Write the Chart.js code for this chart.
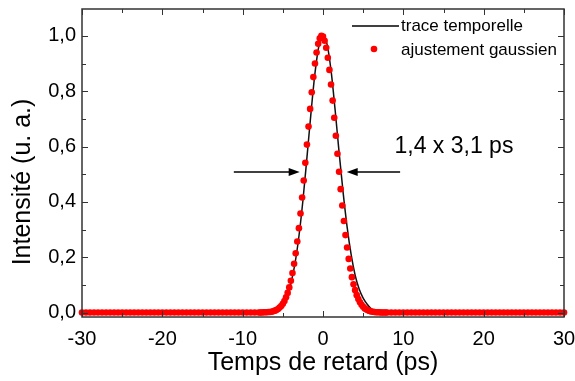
<!DOCTYPE html>
<html>
<head>
<meta charset="utf-8">
<script src="https://cdn.jsdelivr.net/npm/chart.js@4.4.1/dist/chart.umd.min.js"></script>
<style>
  html, body { margin: 0; padding: 0; background: #fff; }
  #wrap { width: 575px; height: 381px; }
</style>
</head>
<body>
<div id="wrap"><canvas id="chart-section" width="575" height="381"></canvas></div>
<script>
// measured autocorrelation trace (ps, a.u.)
const traceTime = [-30, -8, -7, -6.5, -6, -5.5, -5, -4.5, -4, -3.5, -3, -2.5, -2, -1.5, -1, -0.5,
  0, 0.5, 1, 1.5, 2, 2.5, 3, 3.5, 4, 4.5, 5, 5.5, 6, 6.5, 7, 8, 30]
const traceValue = [0, 0, 0.001, 0.002, 0.005, 0.013, 0.03, 0.055, 0.105, 0.175, 0.275, 0.405, 0.56, 0.72, 0.865, 0.965,
  1.0, 0.97, 0.875, 0.735, 0.58, 0.435, 0.31, 0.21, 0.135, 0.085, 0.052, 0.03, 0.014, 0.005, 0.001, 0, 0]

// gaussian fit points
const fitTime = [
  -30, -29.5, -29, -28.5, -28, -27.5, -27, -26.5, -26, -25.5, -25,
  -24.5, -24, -23.5, -23, -22.5, -22, -21.5, -21, -20.5, -20,
  -19.5, -19, -18.5, -18, -17.5, -17, -16.5, -16, -15.5, -15,
  -14.5, -14, -13.5, -13, -12.5, -12, -11.5, -11, -10.5, -10, -9.5, -9, -8.5,
  -8, -7.8, -7.6, -7.4, -7.2, -7, -6.8, -6.6, -6.4, -6.2,
  -6, -5.8, -5.6, -5.4, -5.2, -5, -4.8, -4.6, -4.4, -4.2,
  -4, -3.8, -3.6, -3.4, -3.2, -3, -2.8, -2.6, -2.4, -2.2,
  -2, -1.8, -1.6, -1.4, -1.2, -1, -0.8, -0.6, -0.4, -0.2,
  0, 0.2, 0.4, 0.6, 0.8, 1, 1.2, 1.4, 1.6, 1.8,
  2, 2.2, 2.4, 2.6, 2.8, 3, 3.2, 3.4, 3.6, 3.8,
  4, 4.2, 4.4, 4.6, 4.8, 5, 5.2, 5.4, 5.6, 5.8,
  6, 6.2, 6.4, 6.6, 6.8, 7, 7.2, 7.4, 7.6, 7.8, 8,
  8.5, 9, 9.5, 10, 10.5, 11, 11.5, 12, 12.5, 13, 13.5, 14, 14.5, 15,
  15.5, 16, 16.5, 17, 17.5, 18, 18.5, 19, 19.5, 20,
  20.5, 21, 21.5, 22, 22.5, 23, 23.5, 24, 24.5, 25,
  25.5, 26, 26.5, 27, 27.5, 28, 28.5, 29, 29.5, 30
]
const fitValue = [
  0, 0, 0, 0, 0, 0, 0, 0, 0, 0, 0,
  0, 0, 0, 0, 0, 0, 0, 0, 0, 0,
  0, 0, 0, 0, 0, 0, 0, 0, 0, 0,
  0, 0, 0, 0, 0, 0, 0, 0, 0, 0, 0, 0, 0,
  0, 0, 0, 0.001, 0.001, 0.001, 0.002, 0.002, 0.003, 0.005,
  0.007, 0.009, 0.013, 0.018, 0.024, 0.032, 0.042, 0.055, 0.071, 0.091,
  0.115, 0.143, 0.176, 0.214, 0.257, 0.305, 0.358, 0.416, 0.477, 0.541,
  0.607, 0.672, 0.736, 0.796, 0.851, 0.900, 0.940, 0.971, 0.991, 1.000,
  0.997, 0.982, 0.957, 0.921, 0.877, 0.824, 0.766, 0.704, 0.639, 0.574,
  0.509, 0.446, 0.387, 0.331, 0.280, 0.235, 0.194, 0.159, 0.128, 0.102,
  0.081, 0.063, 0.049, 0.037, 0.028, 0.021, 0.015, 0.011, 0.008, 0.006,
  0.004, 0.003, 0.002, 0.001, 0.001, 0.001, 0, 0, 0, 0, 0,
  0, 0, 0, 0, 0, 0, 0, 0, 0, 0, 0, 0, 0, 0,
  0, 0, 0, 0, 0, 0, 0, 0, 0, 0,
  0, 0, 0, 0, 0, 0, 0, 0, 0, 0,
  0, 0, 0, 0, 0, 0, 0, 0, 0, 0
]

const xTicks = [-30, -20, -10, 0, 10, 20, 30]
const xTickMarks = [-30, -25, -20, -15, -10, -5, 0, 5, 10, 15, 20, 25, 30]
const yTicks = [0, 0.2, 0.4, 0.6, 0.8, 1.0]
const yTickMarks = [0, 0.1, 0.2, 0.3, 0.4, 0.5, 0.6, 0.7, 0.8, 0.9, 1.0]

const seriesNames = ['trace temporelle', 'ajustement gaussien']
const fwhmLabel = '1,4 x 3,1 ps'

const FONT = "'Liberation Sans', Arial, sans-serif"

// frame, inward ticks, legend, arrows, axis titles
const decor = {
  id: 'decor',
  afterDatasetsDraw(chart) {
    const ctx = chart.ctx
    const a = chart.chartArea
    const xs = chart.scales.x
    const ys = chart.scales.y
    ctx.save()
    ctx.strokeStyle = '#333'
    ctx.lineWidth = 1.5
    ctx.strokeRect(a.left, a.top, a.right - a.left, a.bottom - a.top)

    ctx.lineWidth = 1
    ctx.beginPath()
    xTickMarks.forEach(v => {
      const px = Math.round(xs.getPixelForValue(v)) + 0.5
      const len = v % 10 === 0 ? 6 : 4
      ctx.moveTo(px, a.bottom); ctx.lineTo(px, a.bottom - len)
      ctx.moveTo(px, a.top); ctx.lineTo(px, a.top + len)
    })
    yTickMarks.forEach((v, i) => {
      const py = Math.round(ys.getPixelForValue(v)) + 0.5
      const len = i % 2 === 0 ? 6 : 4
      ctx.moveTo(a.left, py); ctx.lineTo(a.left + len, py)
      ctx.moveTo(a.right, py); ctx.lineTo(a.right - len, py)
    })
    ctx.stroke()

    // legend
    ctx.fillStyle = '#000'
    ctx.strokeStyle = '#000'
    ctx.lineWidth = 1.5
    ctx.beginPath()
    ctx.moveTo(352, 26); ctx.lineTo(399, 26)
    ctx.stroke()
    ctx.fillStyle = '#ff0000'
    ctx.beginPath()
    ctx.arc(374, 49, 3.3, 0, Math.PI * 2)
    ctx.fill()
    ctx.fillStyle = '#000'
    ctx.font = '17px ' + FONT
    ctx.textBaseline = 'middle'
    ctx.textAlign = 'left'
    ctx.fillText(seriesNames[0], 401, 26)
    ctx.fillText(seriesNames[1], 401, 50)

    // FWHM arrows
    const yArr = ys.getPixelForValue(0.508)
    const arrow = (from, to) => {
      const x0 = xs.getPixelForValue(from), x1 = xs.getPixelForValue(to)
      const dir = Math.sign(x1 - x0)
      ctx.beginPath()
      ctx.moveTo(x0, yArr); ctx.lineTo(x1 - dir * 8, yArr)
      ctx.stroke()
      ctx.beginPath()
      ctx.moveTo(x1, yArr)
      ctx.lineTo(x1 - dir * 11, yArr - 4)
      ctx.lineTo(x1 - dir * 11, yArr + 4)
      ctx.closePath()
      ctx.fill()
    }
    arrow(-11.1, -2.9)
    arrow(9.6, 2.95)
    ctx.font = '23px ' + FONT
    ctx.fillText(fwhmLabel, xs.getPixelForValue(8.9), ys.getPixelForValue(0.598))

    // axis titles
    ctx.font = '25px ' + FONT
    ctx.textAlign = 'center'
    ctx.textBaseline = 'alphabetic'
    ctx.fillText('Temps de retard (ps)', (a.left + a.right) / 2, 370)
    ctx.translate(30, 182)
    ctx.rotate(-Math.PI / 2)
    ctx.fillText('Intensité (u. a.)', 0, 0)
    ctx.restore()
  }
}

new Chart(document.getElementById('chart-section'), {
  type: 'scatter',
  data: {
    datasets: [
      {
        label: seriesNames[0],
        data: traceTime.map((t, i) => ({ x: t, y: traceValue[i] })),
        showLine: true,
        cubicInterpolationMode: 'monotone',
        borderColor: '#111',
        borderWidth: 1.5,
        pointRadius: 0,
        order: 2
      },
      {
        label: seriesNames[1],
        data: fitTime.map((t, i) => ({ x: t, y: fitValue[i] })),
        backgroundColor: '#ff0000',
        borderWidth: 0,
        pointRadius: 3.3,
        clip: false,
        order: 1
      }
    ]
  },
  options: {
    responsive: false,
    animation: false,
    devicePixelRatio: 1,
    layout: { padding: { top: 9, right: 11, left: 0, bottom: 0 } },
    plugins: {
      legend: { display: false },
      tooltip: { enabled: false }
    },
    scales: {
      x: {
        type: 'linear',
        min: -30,
        max: 30,
        afterBuildTicks: s => { s.ticks = xTicks.map(v => ({ value: v })) },
        afterFit: s => { s.height = 64; s.paddingLeft = 0; s.paddingRight = 0 },
        grid: { display: false, drawTicks: false },
        border: { display: false },
        ticks: {
          padding: 10,
          color: '#000',
          font: { family: FONT, size: 20 },
          callback: v => String(v)
        }
      },
      y: {
        type: 'linear',
        min: -0.016,
        max: 1.097,
        afterBuildTicks: s => { s.ticks = yTicks.map(v => ({ value: v })) },
        afterFit: s => { s.width = 82; s.paddingTop = 0; s.paddingBottom = 0 },
        grid: { display: false, drawTicks: false },
        border: { display: false },
        ticks: {
          padding: 6,
          color: '#000',
          font: { family: FONT, size: 20 },
          callback: v => v.toFixed(1).replace('.', ',')
        }
      }
    }
  },
  plugins: [decor]
})
</script>
</body>
</html>
